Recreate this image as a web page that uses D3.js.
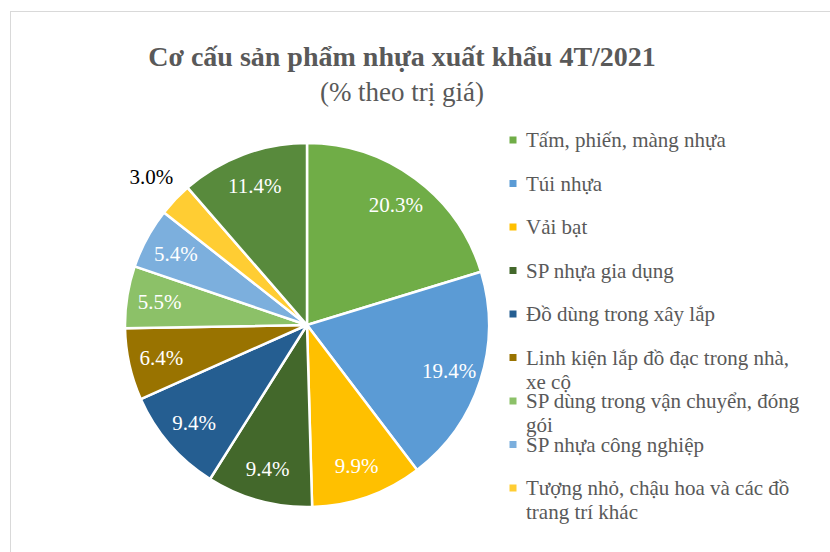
<!DOCTYPE html>
<html>
<head>
<meta charset="utf-8">
<script src="https://cdn.jsdelivr.net/npm/d3@7"></script>
<style>
  body { margin: 0; background: #fff; }
  svg { display: block; }
</style>
</head>
<body>
<div id="chart"></div>
<script>
// chart data
var categories = [
  "Tấm, phiến, màng nhựa",
  "Túi nhựa",
  "Vải bạt",
  "SP nhựa gia dụng",
  "Đồ dùng trong xây lắp",
  "Linh kiện lắp đồ đạc trong nhà, xe cộ",
  "SP dùng trong vận chuyển, đóng gói",
  "SP nhựa công nghiệp",
  "Tượng nhỏ, chậu hoa và các đồ trang trí khác",
  "Khác"
];
var values = [20.3, 19.4, 9.9, 9.4, 9.4, 6.4, 5.5, 5.4, 3.0, 11.4];
var colors = ["#70ad47", "#5b9bd5", "#ffc000", "#43682b", "#255e91",
              "#997300", "#8cc168", "#7cafdd", "#ffcd33", "#588a3c"];
var title = "Cơ cấu sản phẩm nhựa xuất khẩu 4T/2021";
var subtitle = "(% theo trị giá)";

var W = 830, H = 552;
var font = "'Liberation Serif', 'Times New Roman', serif";

var svg = d3.select("#chart").append("svg")
  .attr("width", W).attr("height", H);

// chart border (cropped on right and bottom)
svg.append("rect")
  .attr("x", 10.5).attr("y", 11.5)
  .attr("width", 900).attr("height", 600)
  .style("fill", "#fff")
  .style("stroke", "#d9d9d9")
  .style("stroke-width", 1);

svg.append("text").text(title)
  .attr("x", 402).attr("y", 66)
  .attr("text-anchor", "middle")
  .style("font-family", font).style("font-weight", "bold")
  .style("font-size", "28px").style("fill", "#595959");

svg.append("text").text(subtitle)
  .attr("x", 402).attr("y", 101)
  .attr("text-anchor", "middle")
  .style("font-family", font)
  .style("font-size", "27px").style("fill", "#595959");

// pie
var cx = 307, cy = 325, r = 182;
var pie = d3.pie().sort(null).value(function(d) { return d; });
var arcs = pie(values);
var arc = d3.arc().innerRadius(0).outerRadius(r);
var labelArc = d3.arc().innerRadius(r * 0.82).outerRadius(r * 0.82);
var outArc = d3.arc().innerRadius(r * 1.18).outerRadius(r * 1.18);

var g = svg.append("g").attr("transform", "translate(" + cx + "," + cy + ")");

g.selectAll("path.slice").data(arcs).enter().append("path")
  .attr("class", "slice")
  .attr("d", arc)
  .style("fill", function(d, i) { return colors[i]; })
  .style("stroke", "#fff")
  .style("stroke-width", 2.5)
  .style("stroke-linejoin", "round");

g.selectAll("text.lbl").data(arcs).enter().append("text")
  .attr("class", "lbl")
  .attr("transform", function(d) {
    var small = d.data < 4;
    return "translate(" + (small ? outArc : labelArc).centroid(d) + ")";
  })
  .attr("text-anchor", "middle")
  .attr("dy", "0.35em")
  .text(function(d) { return d.data.toFixed(1) + "%"; })
  .style("font-family", font).style("font-size", "21px")
  .style("fill", function(d) { return d.data < 4 ? "#000" : "#fff"; });

// legend (Excel cut it off after 9 entries)
var lx = 513, ly = 140, step = 43.5, maxW = 285, lineH = 24, legendBottom = 520;
var legend = svg.append("g");
categories.forEach(function(name, i) {
  var y = ly + i * step;
  if (y > legendBottom) return;
  legend.append("rect")
    .attr("x", lx - 3.5).attr("y", y - 3.5)
    .attr("width", 7).attr("height", 7)
    .style("fill", colors[i]);
  var t = legend.append("text")
    .attr("x", lx + 13).attr("y", y)
    .style("font-family", font).style("font-size", "21px")
    .style("fill", "#595959");
  var words = name.split(" "), line = [], k = 0;
  var ts = t.append("tspan").attr("x", lx + 13).attr("dy", "0.35em");
  words.forEach(function(w) {
    line.push(w);
    ts.text(line.join(" "));
    if (ts.node().getComputedTextLength() > maxW && line.length > 1) {
      line.pop();
      ts.text(line.join(" "));
      line = [w];
      k++;
      ts = t.append("tspan").attr("x", lx + 13).attr("y", y + k * lineH)
        .attr("dy", "0.35em").text(w);
    }
  });
});
</script>
</body>
</html>
